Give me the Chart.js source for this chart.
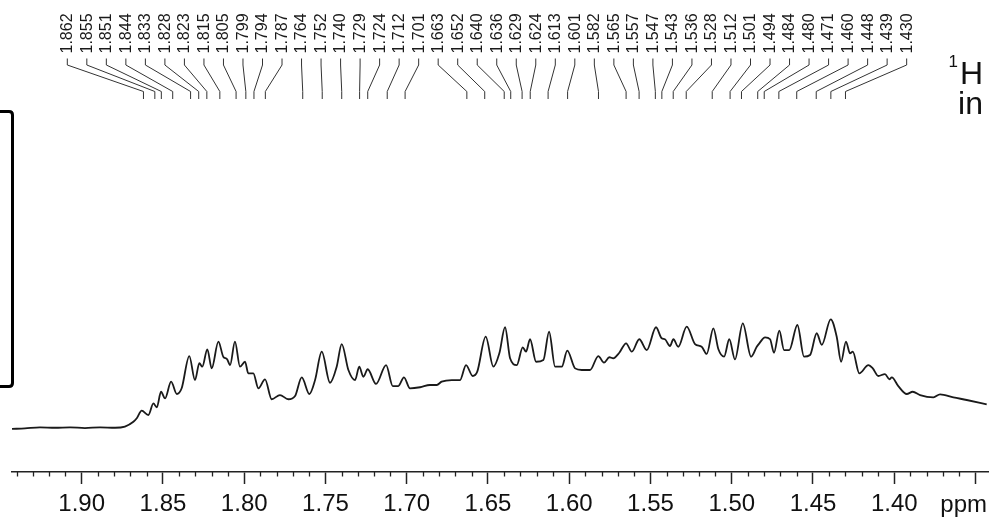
<!DOCTYPE html>
<html><head><meta charset="utf-8">
<script src="https://cdn.jsdelivr.net/npm/chart.js@4.4.1/dist/chart.umd.min.js"></script>
<style>html,body{margin:0;padding:0;background:#fff;}canvas{display:block;}</style>
</head><body>
<canvas id="c" width="991" height="522"></canvas>
<script>
// Chemical shift (ppm) of each traced point of the spectrum
const ppm = [1.9429,1.9349,1.9257,1.9164,1.9072,1.8980,1.8887,1.8795,1.8734,1.8682,
1.8660,1.8631,1.8590,1.8559,1.8538,1.8512,1.8487,1.8450,1.8415,1.8385,
1.8338,1.8303,1.8276,1.8258,1.8227,1.8200,1.8159,1.8129,1.8106,1.8087,
1.8057,1.8026,1.7995,1.7975,1.7944,1.7913,1.7872,1.7831,1.7780,1.7729,
1.7687,1.7646,1.7599,1.7564,1.7523,1.7472,1.7431,1.7400,1.7359,1.7318,
1.7292,1.7267,1.7240,1.7189,1.7127,1.7086,1.7052,1.7017,1.6980,1.6918,
1.6857,1.6815,1.6785,1.6723,1.6672,1.6635,1.6594,1.6566,1.6514,1.6467,
1.6430,1.6395,1.6364,1.6323,1.6286,1.6266,1.6241,1.6204,1.6159,1.6124,
1.6087,1.6046,1.6012,1.5964,1.5923,1.5872,1.5821,1.5786,1.5753,1.5729,
1.5692,1.5650,1.5615,1.5569,1.5523,1.5466,1.5431,1.5411,1.5380,1.5359,
1.5329,1.5277,1.5226,1.5185,1.5154,1.5113,1.5082,1.5047,1.5015,1.4980,
1.4932,1.4881,1.4846,1.4830,1.4795,1.4764,1.4740,1.4707,1.4678,1.4646,
1.4596,1.4555,1.4518,1.4477,1.4446,1.4391,1.4354,1.4327,1.4297,1.4272,
1.4255,1.4215,1.4159,1.4132,1.4098,1.4057,1.4030,1.4015,1.3975,1.3923,
1.3886,1.3841,1.3759,1.3718,1.3636,1.3554,1.3431];
// Signal intensity (arbitrary units) at those points
const intensity = [28.7,29.1,29.8,29.5,29.8,29.3,29.8,29.5,30.3,33.5,
36.0,40.9,38.0,45.8,43.1,53.5,49.1,60.2,52.0,55.8,
77.3,61.3,72.5,70.2,81.8,69.1,86.9,76.9,75.3,71.3,
86.9,70.2,73.5,65.8,65.8,55.8,61.8,48.5,51.3,48.5,
50.7,63.1,52.0,61.3,80.2,59.5,70.2,85.3,68.0,61.3,
70.2,63.5,68.5,58.7,71.3,57.3,57.3,63.1,55.8,56.5,
58.0,58.0,60.2,61.3,61.3,71.3,64.0,66.9,90.2,70.2,
79.1,96.5,75.8,71.3,83.1,80.2,88.5,73.5,74.7,93.5,
70.2,70.2,80.9,69.1,68.0,68.0,77.3,72.9,76.5,75.8,
79.5,85.8,80.2,88.5,81.3,96.5,89.1,88.5,84.0,88.5,
83.5,96.9,85.3,83.5,78.7,95.8,81.8,76.9,88.5,75.1,
99.1,76.9,83.5,85.8,89.8,88.5,79.5,94.2,81.3,81.3,
98.0,76.9,78.0,92.5,84.7,101.8,90.2,73.5,86.9,79.1,
80.2,65.8,71.3,69.1,64.0,65.3,61.8,63.1,57.3,52.0,
53.5,51.3,49.8,51.8,49.8,48.0,45.1];
// Picked peak labels (ppm)
const peakLabels = ['1.862','1.855','1.851','1.844','1.833','1.828','1.823','1.815','1.805','1.799','1.794','1.787',
'1.764','1.752','1.740','1.729','1.724','1.712','1.701',
'1.663','1.652','1.640','1.636','1.629','1.624','1.613','1.601','1.582','1.565','1.557',
'1.547','1.543','1.536','1.528','1.512','1.501','1.494','1.484','1.480','1.471','1.460','1.448','1.439','1.430'];
// Labelled axis ticks
const tickLabels = ['1.90','1.85','1.80','1.75','1.70','1.65','1.60','1.55','1.50','1.45','1.40'];
const xRange = [1.3423, 1.9429];
const yRange = [0, 250];
const minorStep = 0.01;
const majorEvery = 5; // a long tick every 5 minor steps (0.05 ppm)
const axisUnit = 'ppm';
const nucleus = {mass: '1', symbol: 'H', line2: 'in'};

const FONT = '"Liberation Sans", Arial, Helvetica, sans-serif';
function isMajor(v){ return Math.round(v*100) % majorEvery === 0; }

const overlay = {
  id: 'overlay',
  afterDraw(chart){
    const ctx = chart.ctx, xs = chart.scales.x, area = chart.chartArea;
    ctx.save();
    // minor ticks
    ctx.strokeStyle = '#222'; ctx.lineWidth = 1.3;
    xs.ticks.forEach(t => {
      if (!isMajor(t.value)) {
        const x = Math.round(xs.getPixelForValue(t.value)) + 0.5;
        ctx.beginPath(); ctx.moveTo(x, area.bottom); ctx.lineTo(x, area.bottom + 4.5); ctx.stroke();
      }
    });
    // unit label
    ctx.fillStyle = '#111';
    ctx.font = '24px ' + FONT;
    ctx.textAlign = 'right'; ctx.textBaseline = 'middle';
    ctx.fillText(axisUnit, 987, 505);
    // peak labels + leader lines
    ctx.font = '16px ' + FONT;
    ctx.strokeStyle = '#333'; ctx.lineWidth = 1;
    peakLabels.forEach((lab, i) => {
      const lx = 67.3 + i * 19.52;
      const px = xs.getPixelForValue(parseFloat(lab));
      ctx.beginPath();
      ctx.moveTo(lx, 58.5); ctx.lineTo(lx, 65); ctx.lineTo(px, 91.5); ctx.lineTo(px, 99);
      ctx.stroke();
      ctx.save();
      ctx.translate(lx, 53.5); ctx.rotate(-Math.PI/2);
      ctx.textAlign = 'left'; ctx.textBaseline = 'middle';
      ctx.fillStyle = '#1a1a1a';
      ctx.fillText(lab, 0, 0.5);
      ctx.restore();
    });
    // nucleus label
    ctx.fillStyle = '#111';
    ctx.textAlign = 'right'; ctx.textBaseline = 'alphabetic';
    ctx.font = '32px ' + FONT;
    ctx.fillText(nucleus.symbol, 983, 83.5);
    ctx.fillText(nucleus.line2, 983, 113.5);
    const hw = ctx.measureText(nucleus.symbol).width;
    ctx.font = '17px ' + FONT;
    ctx.fillText(nucleus.mass, 983 - hw - 2, 67);
    // left bracket
    ctx.strokeStyle = '#000'; ctx.lineWidth = 3; ctx.lineJoin = 'round';
    ctx.beginPath();
    ctx.moveTo(-2, 111.5); ctx.lineTo(9, 111.5);
    ctx.quadraticCurveTo(12.5, 111.5, 12.5, 115);
    ctx.lineTo(12.5, 383);
    ctx.quadraticCurveTo(12.5, 386.5, 9, 386.5);
    ctx.lineTo(-2, 386.5);
    ctx.stroke();
    ctx.restore();
  }
};

new Chart(document.getElementById('c'), {
  type: 'line',
  data: {
    datasets: [{
      data: ppm.map((p, i) => ({x: p, y: intensity[i]})),
      borderColor: '#1a1a1a',
      borderWidth: 1.8,
      pointRadius: 0,
      fill: false,
      cubicInterpolationMode: 'monotone'
    }]
  },
  options: {
    responsive: false,
    animation: false,
    devicePixelRatio: 1,
    layout: {padding: {left: 12, right: 3, top: 97, bottom: 0}},
    plugins: {legend: {display: false}, tooltip: {enabled: false}},
    scales: {
      x: {
        type: 'linear',
        reverse: true,
        min: xRange[0], max: xRange[1],
        afterFit: s => { s.height = 50; },
        border: {display: true, color: '#222', width: 1.5},
        grid: {
          drawOnChartArea: false, drawTicks: true, tickLength: 12,
          tickWidth: 1.5,
          tickColor: c => (c.tick && isMajor(c.tick.value)) ? '#222' : 'rgba(0,0,0,0)'
        },
        ticks: {
          stepSize: minorStep,
          includeBounds: false,
          autoSkip: false,
          maxRotation: 0,
          padding: 6,
          color: '#111',
          font: {family: FONT, size: 24},
          callback: v => { const s = v.toFixed(2); return tickLabels.includes(s) ? s : ''; }
        }
      },
      y: {display: false, min: yRange[0], max: yRange[1]}
    }
  },
  plugins: [overlay]
});
</script>
</body></html>
